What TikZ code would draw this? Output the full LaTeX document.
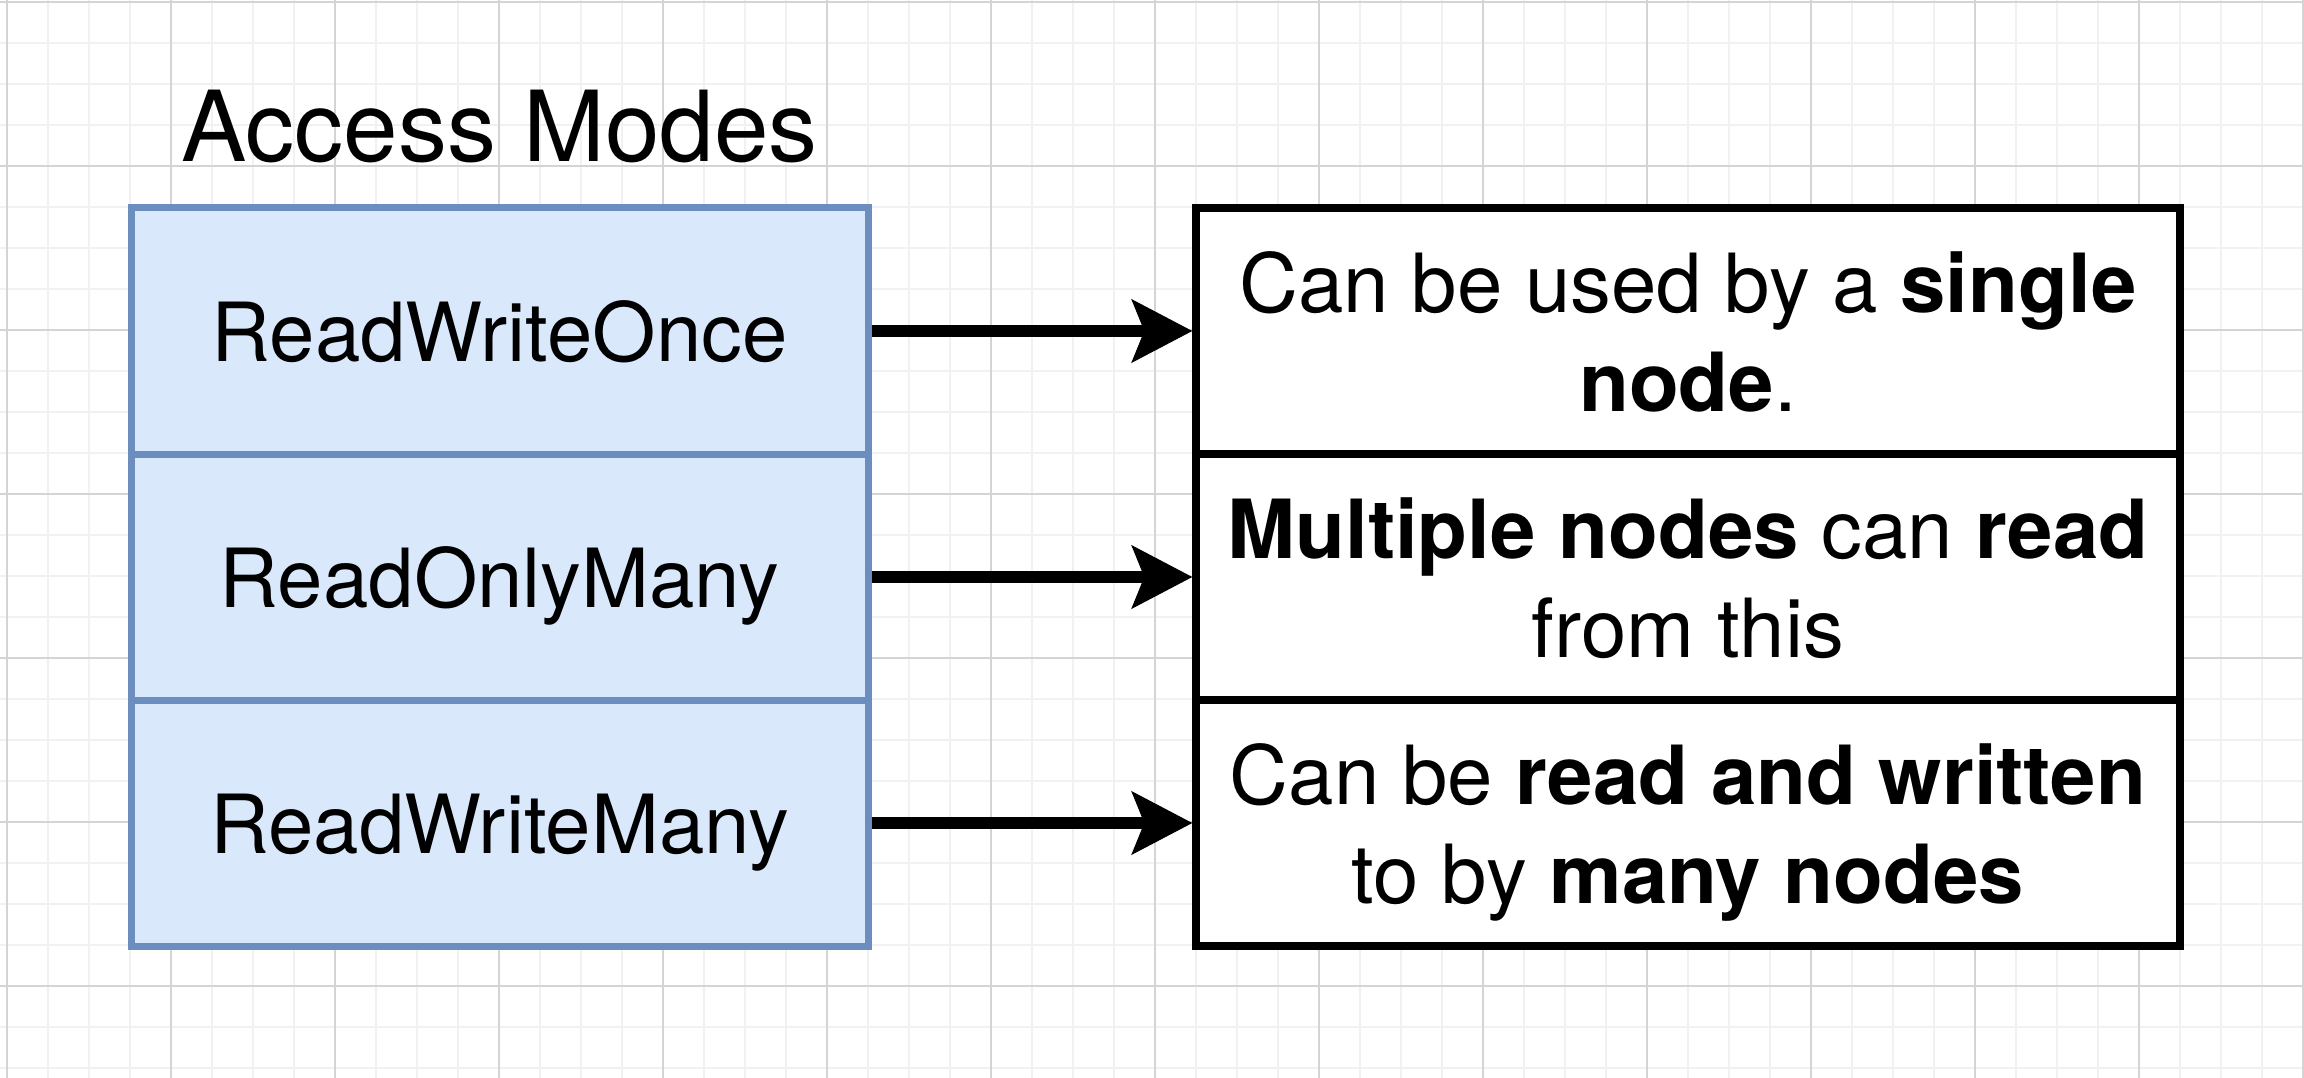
\documentclass[tikz,border=0pt]{standalone}
\usepackage{fontspec}
\setmainfont{TeX Gyre Heros}
\usetikzlibrary{arrows.meta}
\definecolor{blueStroke}{HTML}{6C8EBF}
\definecolor{blueFill}{HTML}{DAE8FC}
\definecolor{gridMinor}{HTML}{F1F1F1}
\definecolor{gridMajor}{HTML}{D4D4D4}
\tikzset{
  minorline/.style={draw=gridMinor, line width=1.6pt},
  majorline/.style={draw=gridMajor, line width=1.2pt},
  modebox/.style={rectangle, draw=blueStroke, fill=blueFill, line width=7pt,
    minimum width=737pt, minimum height=246pt, inner sep=0pt},
  descbox/.style={rectangle, draw=black, fill=white, line width=7.5pt,
    minimum width=984pt, minimum height=246pt, inner sep=0pt},
  bodytext/.style={font=\fontsize{81.6pt}{98.5pt}\selectfont, text=black,
    inner sep=0pt, anchor=base, align=center},
  titletext/.style={font=\fontsize{98pt}{118pt}\selectfont, text=black,
    inner sep=0pt, anchor=base},
  arr/.style={draw=black, line width=12pt,
    -{Stealth[length=61pt, width=64pt, inset=13pt, line width=1pt]}},
}
\begin{document}
\begin{tikzpicture}[x=1pt, y=-1pt]
\useasboundingbox (0,0) rectangle (2304,1078);
\fill[white] (0,0) rectangle (2304,1078);
% grid
\foreach \k in {0,...,56} {
  \pgfmathsetmacro{\gx}{7+41*\k}
  \draw[minorline] (\gx,0) -- (\gx,1078);
}
\foreach \k in {0,...,26} {
  \pgfmathsetmacro{\gy}{2+41*\k}
  \draw[minorline] (0,\gy) -- (2304,\gy);
}
\foreach \k in {0,...,14} {
  \pgfmathsetmacro{\gx}{7+164*\k}
  \draw[majorline] (\gx,0) -- (\gx,1078);
}
\foreach \k in {0,...,6} {
  \pgfmathsetmacro{\gy}{2+164*\k}
  \draw[majorline] (0,\gy) -- (2304,\gy);
}
% title
\node[titletext] (title) at (499.5,162) {Access Modes};
% left boxes
\node[modebox] (m1) at (499.5,331) {};
\node[modebox] (m2) at (499.5,577) {};
\node[modebox] (m3) at (499.5,823) {};
\node[bodytext] (m1t) at (499.5,361) {ReadWriteOnce};
\node[bodytext] (m2t) at (499.5,607) {ReadOnlyMany};
\node[bodytext] (m3t) at (499.5,853) {ReadWriteMany};
% right boxes
\node[descbox] (d1) at (1688,331) {};
\node[descbox] (d2) at (1688,577) {};
\node[descbox] (d3) at (1688,823) {};
\node[bodytext] (d1t) at (1688,411) {Can be used by a \textbf{single}\\\textbf{node}.};
\node[bodytext] (d2t) at (1688,657) {\textbf{Multiple nodes} can \textbf{read}\\from this};
\node[bodytext] (d3t) at (1688,903) {Can be \textbf{read and written}\\to by \textbf{many nodes}};
% arrows
\draw[arr] (m1.east) -- (d1.west);
\draw[arr] (m2.east) -- (d2.west);
\draw[arr] (m3.east) -- (d3.west);
\end{tikzpicture}
\end{document}
